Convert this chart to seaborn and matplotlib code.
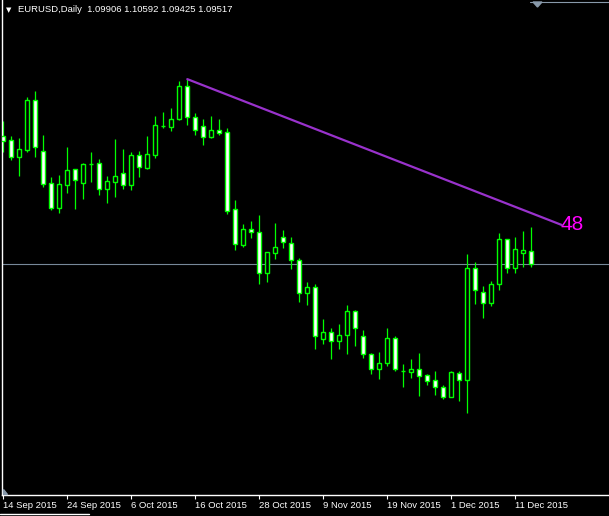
import matplotlib.pyplot as plt
from matplotlib.lines import Line2D
from matplotlib.patches import Polygon
import numpy as np
import pandas as pd
import seaborn as sns

# EURUSD daily candles
opens = [1.1321, 1.1310, 1.1262, 1.1282, 1.1425, 1.1278, 1.1186, 1.1115, 1.1181, 1.1225,
         1.1187, 1.1241, 1.1243, 1.1169, 1.1190, 1.1214, 1.1181, 1.1267, 1.1230, 1.1267,
         1.1351, 1.1347, 1.1369, 1.1464, 1.1375, 1.1349, 1.1319, 1.1338, 1.1332, 1.1112,
         1.1008, 1.1053, 1.1044, 1.0928, 1.0985, 1.1030, 1.1012, 1.0963, 1.0868, 1.0886,
         1.0737, 1.0756, 1.0730, 1.0747, 1.0816, 1.0744, 1.0693, 1.0649, 1.0667, 1.0739,
         1.0644, 1.0642, 1.0649, 1.0633, 1.0618, 1.0597, 1.0570, 1.0638, 1.0619, 1.0940,
         1.0871, 1.0839, 1.0894, 1.1024, 1.0940, 1.0984, 1.09906]
highs = [1.1364, 1.1321, 1.1315, 1.1434, 1.1451, 1.1324, 1.1203, 1.1209, 1.1290, 1.1225,
         1.1243, 1.1275, 1.1255, 1.1206, 1.1313, 1.1284, 1.1275, 1.1278, 1.1321, 1.1379,
         1.1390, 1.1402, 1.1480, 1.1485, 1.1387, 1.1370, 1.1379, 1.1370, 1.1343, 1.1137,
         1.1068, 1.1077, 1.1094, 1.0987, 1.1071, 1.1050, 1.1031, 1.0969, 1.0901, 1.0894,
         1.0794, 1.0768, 1.0780, 1.0835, 1.0820, 1.0763, 1.0696, 1.0699, 1.0768, 1.0744,
         1.0665, 1.0679, 1.0696, 1.0636, 1.0645, 1.0605, 1.0645, 1.0645, 1.0981, 1.0958,
         1.0889, 1.0903, 1.1041, 1.1024, 1.1031, 1.1048, 1.10592]
lows = [1.1275, 1.1252, 1.1206, 1.1276, 1.1262, 1.1175, 1.1108, 1.1100, 1.1158, 1.1112,
        1.1141, 1.1189, 1.1151, 1.1128, 1.1146, 1.1169, 1.1166, 1.1204, 1.1226, 1.1259,
        1.1345, 1.1336, 1.1368, 1.1353, 1.1324, 1.1295, 1.1316, 1.1325, 1.1097, 1.0993,
        1.1002, 1.1028, 1.0896, 1.0902, 1.0966, 1.1000, 1.0937, 1.0844, 1.0835, 1.0709,
        1.0723, 1.0680, 1.0709, 1.0694, 1.0717, 1.0681, 1.0637, 1.0622, 1.0660, 1.0645,
        1.0599, 1.0625, 1.0573, 1.0605, 1.0575, 1.0565, 1.0570, 1.0558, 1.0524, 1.0838,
        1.0798, 1.0833, 1.0879, 1.0926, 1.0928, 1.0945, 1.09425]
closes = [1.1307, 1.1262, 1.1284, 1.1425, 1.1290, 1.1184, 1.1115, 1.1183, 1.1223, 1.1195,
          1.1241, 1.1241, 1.1169, 1.1192, 1.1205, 1.1181, 1.1266, 1.1231, 1.1269, 1.1352,
          1.1351, 1.1369, 1.1464, 1.1377, 1.1339, 1.1319, 1.1338, 1.1331, 1.1106, 1.1011,
          1.1053, 1.1044, 1.0928, 1.0987, 1.1001, 1.1015, 1.0963, 1.0868, 1.0886, 1.0744,
          1.0756, 1.0730, 1.0747, 1.0816, 1.0767, 1.0693, 1.0649, 1.0667, 1.0739, 1.0649,
          1.0644, 1.0649, 1.0631, 1.0616, 1.0599, 1.0570, 1.0642, 1.0619, 1.0940, 1.0877,
          1.0839, 1.0894, 1.1024, 1.0940, 1.0995, 1.0992, 1.09517]
first_day = "2015-09-14"
bid = closes[-1]

# trend line drawn on the chart (bar index, price)
trend_x = [23, 69.8]
trend_y = [1.1485, 1.1065]
trend_label = "48"

W, H = 609, 516

sns.set_style("dark", {"axes.facecolor": "black", "figure.facecolor": "black",
                       "axes.edgecolor": "white"})
plt.rcParams["font.family"] = ["Liberation Sans", "DejaVu Sans"]

df = pd.DataFrame({"date": pd.bdate_range(first_day, periods=len(opens)),
                   "open": opens, "high": highs, "low": lows, "close": closes})
df["i"] = np.arange(len(df))
bear = df["close"] < df["open"]

fig = plt.figure(figsize=(W / 100, H / 100), dpi=100)
ax = fig.add_axes([2 / W, (H - 495) / H, (W - 2) / W, 495 / H])

ax.axhline(bid, color="#778899", lw=0.8, zorder=1)
ax.vlines(df["i"], df["low"], df["high"], color="#00FF00", lw=0.9, zorder=2)
ax.bar(df["i"], (df["close"] - df["open"]).abs(),
       bottom=df[["open", "close"]].min(axis=1), width=0.5,
       color=np.where(bear, "white", "black"), edgecolor="#00FF00",
       linewidth=1.0, zorder=3)

sns.lineplot(x=trend_x, y=trend_y, color="#9932CC", lw=1.6, ax=ax, zorder=4)
ax.text(trend_x[1] - 0.1, trend_y[1], trend_label, color="#FF00FF", fontsize=15,
        ha="left", va="center")

ax.set_xlim((2 - 3.3) / 8, (W - 3.3) / 8)
ax.set_ylim(1.02873, 1.17129)
ax.grid(False)
for side in ["top", "right"]:
    ax.spines[side].set_visible(False)
for side in ["left", "bottom"]:
    ax.spines[side].set_color("white")
    ax.spines[side].set_linewidth(1)

ticks = df.iloc[::8]
ax.set_xticks(ticks["i"])
ax.set_xticklabels([f"{d.day} {d:%b %Y}" for d in ticks["date"]], ha="left")
ax.set_yticks([])
ax.tick_params(axis="x", bottom=True, colors="white", length=3, width=0.8,
               pad=1.5, labelsize=6.8)
ax.set_xlabel("")
ax.set_ylabel("")

# header line
fig.text(6 / W, 1 - 10 / H, "\u25bc", color="white", fontsize=5,
         family="DejaVu Sans", va="center")
fig.text(18 / W, 1 - 10 / H,
         f"EURUSD,Daily  {opens[-1]:.5f} {highs[-1]:.5f} {lows[-1]:.5f} {closes[-1]:.5f}",
         color="white", fontsize=6.8, va="center")

# small terminal decorations
fig.add_artist(Line2D([530 / W, 1], [1 - 1.5 / H] * 2, color="#8899aa", lw=0.8))
fig.add_artist(Polygon([[533 / W, 1 - 2 / H], [542 / W, 1 - 2 / H], [537.5 / W, 1 - 7 / H]],
                       closed=True, color="#8899aa"))
fig.add_artist(Polygon([[3 / W, 1 - 489 / H], [3 / W, 1 - 494 / H], [7 / W, 1 - 494 / H]],
                       closed=True, color="#8899aa"))
fig.add_artist(Line2D([0, 89 / W], [1 - 514 / H] * 2, color="white", lw=1))

fig.savefig("out.png", dpi=100, facecolor="black")
plt.close(fig)
